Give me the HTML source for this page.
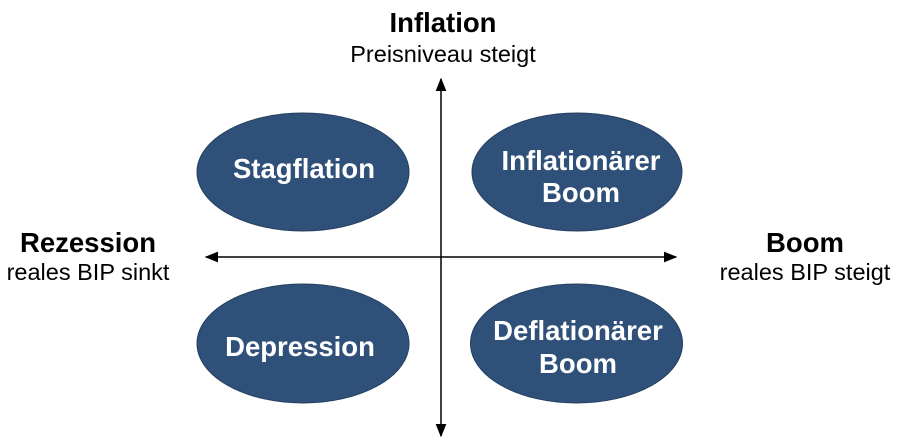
<!DOCTYPE html>
<html><head><meta charset="utf-8">
<style>
html,body{margin:0;padding:0;background:#fff;}
svg{display:block;font-family:"Liberation Sans",Arial,sans-serif;}
</style></head>
<body>
<svg width="905" height="446" viewBox="0 0 905 446">
<defs>
<marker id="ah" viewBox="0 0 10 10" refX="9" refY="5" markerWidth="9" markerHeight="9" orient="auto-start-reverse">
<path d="M0,1 L10,5 L0,9 Z" fill="#000"/>
</marker>
</defs>
<line x1="441" y1="436" x2="441" y2="79" stroke="#000" stroke-width="1.5" marker-end="url(#ah)" marker-start="url(#ah)"/>
<line x1="206" y1="257" x2="676" y2="257" stroke="#000" stroke-width="1.5" marker-end="url(#ah)" marker-start="url(#ah)"/>

<g fill="#2f5179" stroke="#24405f" stroke-width="1">
<ellipse cx="303" cy="172" rx="106" ry="59"/>
<ellipse cx="577" cy="172" rx="105" ry="59"/>
<ellipse cx="303" cy="343.5" rx="106" ry="59.5"/>
<ellipse cx="576.5" cy="343.5" rx="106" ry="59.5"/>
</g>
<g fill="#fff" font-weight="bold" font-size="27.5" text-anchor="middle">
<text x="304" y="178">Stagflation</text>
<text x="581" y="170">Inflationärer<tspan x="581" dy="32">Boom</tspan></text>
<text x="300" y="356">Depression</text>
<text x="578" y="340">Deflationärer<tspan x="578" dy="33">Boom</tspan></text>
</g>

<g fill="#000" text-anchor="middle">
<text x="443" y="32" font-size="27.5" font-weight="bold">Inflation</text>
<text x="443" y="62" font-size="23.5">Preisniveau  steigt</text>
<text x="88" y="252" font-size="27.5" font-weight="bold">Rezession</text>
<text x="88" y="280" font-size="23.5">reales  BIP sinkt</text>
<text x="805" y="252" font-size="27.5" font-weight="bold">Boom</text>
<text x="805" y="280" font-size="23.5">reales  BIP steigt</text>
</g>
</svg>
</body></html>
